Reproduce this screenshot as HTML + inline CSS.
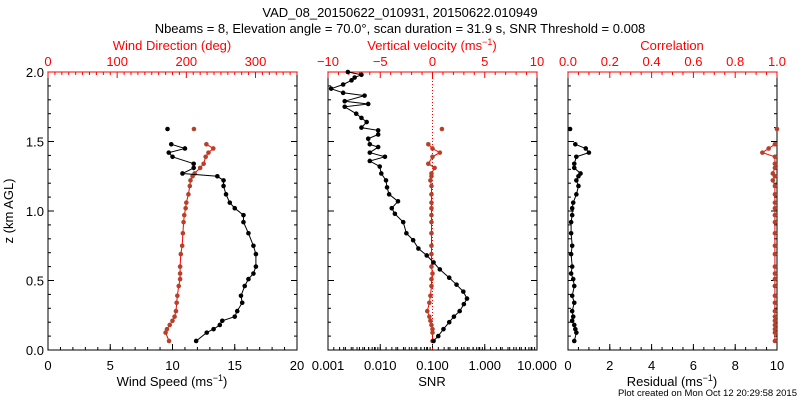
<!DOCTYPE html>
<html><head><meta charset="utf-8"><style>
html,body{margin:0;padding:0;background:#fff;}
svg{display:block;font-family:"Liberation Sans",sans-serif;}
</style></head><body>
<svg id="c" width="800" height="400" xmlns="http://www.w3.org/2000/svg">
<text x="400" y="17" font-size="13" text-anchor="middle">VAD_08_20150622_010931, 20150622.010949</text>
<text x="400" y="33" font-size="13" text-anchor="middle">Nbeams = 8, Elevation angle = 70.0°, scan duration = 31.9 s, SNR Threshold = 0.008</text>
<text x="797" y="396" font-size="9.5" text-anchor="end">Plot created on Mon Oct 12 20:29:58 2015</text>
</svg>
<script>
// ---- data ----
const windZ   = [0.065,0.125,0.15,0.18,0.21,0.24,0.28,0.34,0.39,0.46,0.51,0.55,0.60,0.69,0.75,0.84,0.92,0.97,1.02,1.06,1.12,1.18,1.22,1.25,1.27,1.31,1.34,1.39,1.42,1.45,1.48,1.59];
const windSpeed = [11.9,12.75,13.3,13.8,14.0,15.0,15.2,15.6,15.5,15.8,16.1,16.5,16.7,16.7,16.5,16.1,15.7,15.7,15.0,14.6,14.3,14.1,14.1,13.6,10.8,11.7,11.7,10.0,9.7,11.0,9.9,9.6];
const windDir = [175,170,172,176,180,183,185,186,187,189,191,191,191,192,194,195,196,197,199,200,203,205,206,209,212,220,225,228,232,239,229,211];
const vertVel = [0,0,0,-0.1,-0.2,-0.3,-0.5,-0.3,-0.2,-0.1,-0.1,0,-0.1,-0.1,-0.1,-0.1,-0.1,-0.1,-0.1,-0.1,-0.1,-0.1,-0.2,-0.1,-0.1,0.2,-0.4,0,0.7,0,-0.4,0.9];
const residual = [0.3,0.4,0.35,0.3,0.2,0.25,0.2,0.3,0.2,0.3,0.25,0.15,0.2,0.15,0.2,0.15,0.15,0.2,0.2,0.25,0.4,0.5,0.4,0.5,0.6,0.3,0.3,0.4,1.0,0.85,0.35,0.1];
const correlation = [0.99,0.99,0.99,0.99,0.99,0.99,0.99,0.99,0.99,0.99,0.99,0.99,0.99,0.99,0.99,0.99,0.99,0.99,0.99,0.99,0.99,0.99,0.98,0.99,0.98,0.99,0.99,0.99,0.93,0.96,0.99,1.0];
const snrZ = [0.065,0.10,0.15,0.20,0.24,0.28,0.33,0.37,0.42,0.47,0.52,0.58,0.63,0.68,0.73,0.79,0.84,0.92,0.98,1.02,1.07,1.12,1.17,1.22,1.27,1.32,1.36,1.39,1.42,1.46,1.48,1.52,1.55,1.58,1.60,1.64,1.67,1.70,1.75,1.77,1.79,1.83,1.85,1.88,1.91,1.94,1.96,1.98,2.00];
const snrLog = [-0.98,-0.89,-0.79,-0.68,-0.59,-0.48,-0.40,-0.34,-0.41,-0.54,-0.68,-0.86,-0.98,-1.11,-1.27,-1.37,-1.50,-1.56,-1.72,-1.78,-1.66,-1.83,-1.87,-1.89,-1.98,-2.01,-2.20,-1.91,-2.20,-2.04,-2.20,-2.23,-2.04,-2.04,-2.36,-2.26,-2.36,-2.46,-2.68,-2.23,-2.68,-2.30,-2.71,-2.94,-2.71,-2.55,-2.49,-2.36,-2.62];
const speedTicks = ["0","5","10","15","20"];
const dirTicks = ["0","100","200","300"];
const vvTicks = ["\u221210","\u22125","0","5","10"];
const snrTicks = ["0.001","0.010","0.100","1.000","10.000"];
const corrTicks = ["0.0","0.2","0.4","0.6","0.8","1.0"];
const resTicks = ["0","2","4","6","8","10"];
const zTicks = ["0.0","0.5","1.0","1.5","2.0"];

const NS="http://www.w3.org/2000/svg";
const svg=document.getElementById('c');
const RED="#ff0000", DRED="#b5412a";
const TOP=72, BOT=350;
const yz = z => BOT-(z/2)*(BOT-TOP);
function el(tag,attrs){const e=document.createElementNS(NS,tag);for(const k in attrs)e.setAttribute(k,attrs[k]);svg.appendChild(e);return e;}
function txt(x,y,s,attrs){const e=el('text',Object.assign({x:x,y:y,'font-size':13,'text-anchor':'middle'},attrs||{}));e.textContent=s;return e;}

const panels=[
 {L:48,R:297,name:'wind'},
 {L:328,R:537,name:'snr'},
 {L:568,R:777,name:'residual'}
];
panels.forEach(p=>{
  const f=el('rect',{x:p.L,y:TOP,width:p.R-p.L,height:BOT-TOP,fill:'none',stroke:'#000','stroke-width':1});
  
  
  for(let i=0;i<=20;i++){
    const y=yz(i*0.1), len=(i%5==0)?6:3;
    el('line',{x1:p.L,x2:p.L+len,y1:y,y2:y,stroke:'#000'});
    el('line',{x1:p.R,x2:p.R-len,y1:y,y2:y,stroke:'#000'});
  }
});
zTicks.forEach((t,i)=>{const e=txt(44,yz(i*0.5)+5,t,{'text-anchor':'end'});
  
  });
const yt=txt(0,0,'z (km AGL)',{transform:'translate(13,211) rotate(-90)'});



function lin(d0,d1,p0,p1){return v=>p0+(v-d0)/(d1-d0)*(p1-p0);}
function bottomAxis(p,labels,d0,d1,minorPer,name){
  const sx=lin(d0,d1,p.L,p.R);const n=labels.length-1;
  labels.forEach((t,i)=>{const v=d0+(d1-d0)*i/n;const x=sx(v);
    el('line',{x1:x,x2:x,y1:BOT,y2:BOT-6,stroke:'#000'});
    const e=txt(x,370,t);
    
    });
  const tot=n*minorPer;for(let i=0;i<=tot;i++){const x=p.L+(p.R-p.L)*i/tot;el('line',{x1:x,x2:x,y1:BOT,y2:BOT-3,stroke:'#000'});}
}
function topAxis(p,labels,vals,d0,d1,minorStep,name){
  const sx=lin(d0,d1,p.L,p.R);
  el('line',{x1:p.L,x2:p.R,y1:TOP,y2:TOP,stroke:RED});
  for(let v=d0;v<=d1+1e-9;v+=minorStep){const x=sx(v);const maj=vals.some(m=>Math.abs(m-v)<1e-6);
    el('line',{x1:x,x2:x,y1:TOP,y2:TOP+(maj?6:3),stroke:RED});}
  labels.forEach((t,i)=>{const x=sx(vals[i]);
    const e=txt(x,66,t,{fill:RED});
    
    });
}
// break the line where height gap exceeds 0.1 km
function series(xs,ys,zs,color,name){
  let d='';xs.forEach((x,i)=>{const brk=i==0||(zs[i]-zs[i-1])>0.1;d+=(brk?'M':'L')+x.toFixed(1)+','+ys[i].toFixed(1);});
  const pl=el('path',{d:d,fill:'none',stroke:color=='#000'?'#000':RED,'stroke-width':1});
  
  
  xs.forEach((x,i)=>{const c=el('circle',{cx:x,cy:ys[i],r:2.3,fill:color});
    
    });
}
// Panel 1
const P1=panels[0];
bottomAxis(P1,speedTicks,0,20,5,'speed');
topAxis(P1,dirTicks,[0,100,200,300],0,360,10,'direction');
let e;
e=txt(172,50,'Wind Direction (deg)',{fill:RED});
e=txt(172,386,'');e.innerHTML='Wind Speed (ms<tspan dy="-5" font-size="9">\u22121</tspan><tspan dy="5">)</tspan>';
const sxS=lin(0,20,P1.L,P1.R), sxD=lin(0,360,P1.L,P1.R);
series(windDir.map(sxD),windZ.map(yz),windZ,DRED,'wind-direction');
series(windSpeed.map(sxS),windZ.map(yz),windZ,'#000','wind-speed');
// Panel 2
const P2=panels[1];
bottomAxis(P2,snrTicks,-3,1,9,'snr');
for(let dd=-3;dd<1;dd++)for(let k=2;k<10;k++){const x=lin(-3,1,P2.L,P2.R)(dd+Math.log10(k));el('line',{x1:x,x2:x,y1:BOT,y2:BOT-3,stroke:'#000'});}
topAxis(P2,vvTicks,[-10,-5,0,5,10],-10,10,1,'velocity');
e=txt(432,50,'');e.setAttribute('fill',RED);e.innerHTML='Vertical velocity (ms<tspan dy="-5" font-size="9">\u22121</tspan><tspan dy="5">)</tspan>';
e=txt(432,386,'SNR');
const sxL=lin(-3,1,P2.L,P2.R), sxV=lin(-10,10,P2.L,P2.R);
const zl=el('line',{x1:sxV(0),x2:sxV(0),y1:TOP,y2:BOT,stroke:RED,'stroke-dasharray':'1,2'});

series(vertVel.map(sxV),windZ.map(yz),windZ,DRED,'vertical-velocity');
series(snrLog.map(sxL),snrZ.map(yz),snrZ,'#000','snr');
// Panel 3
const P3=panels[2];
bottomAxis(P3,resTicks,0,10,4,'residual');
topAxis(P3,corrTicks,[0,0.2,0.4,0.6,0.8,1.0],0,1,0.05,'correlation');
e=txt(672,50,'Correlation',{fill:RED});
e=txt(672,386,'');e.innerHTML='Residual (ms<tspan dy="-5" font-size="9">\u22121</tspan><tspan dy="5">)</tspan>';
const sxR=lin(0,10,P3.L,P3.R), sxC=lin(0,1,P3.L,P3.R);
series(correlation.map(sxC),windZ.map(yz),windZ,DRED,'correlation');
series(residual.map(sxR),windZ.map(yz),windZ,'#000','residual');
</script>
</body></html>
